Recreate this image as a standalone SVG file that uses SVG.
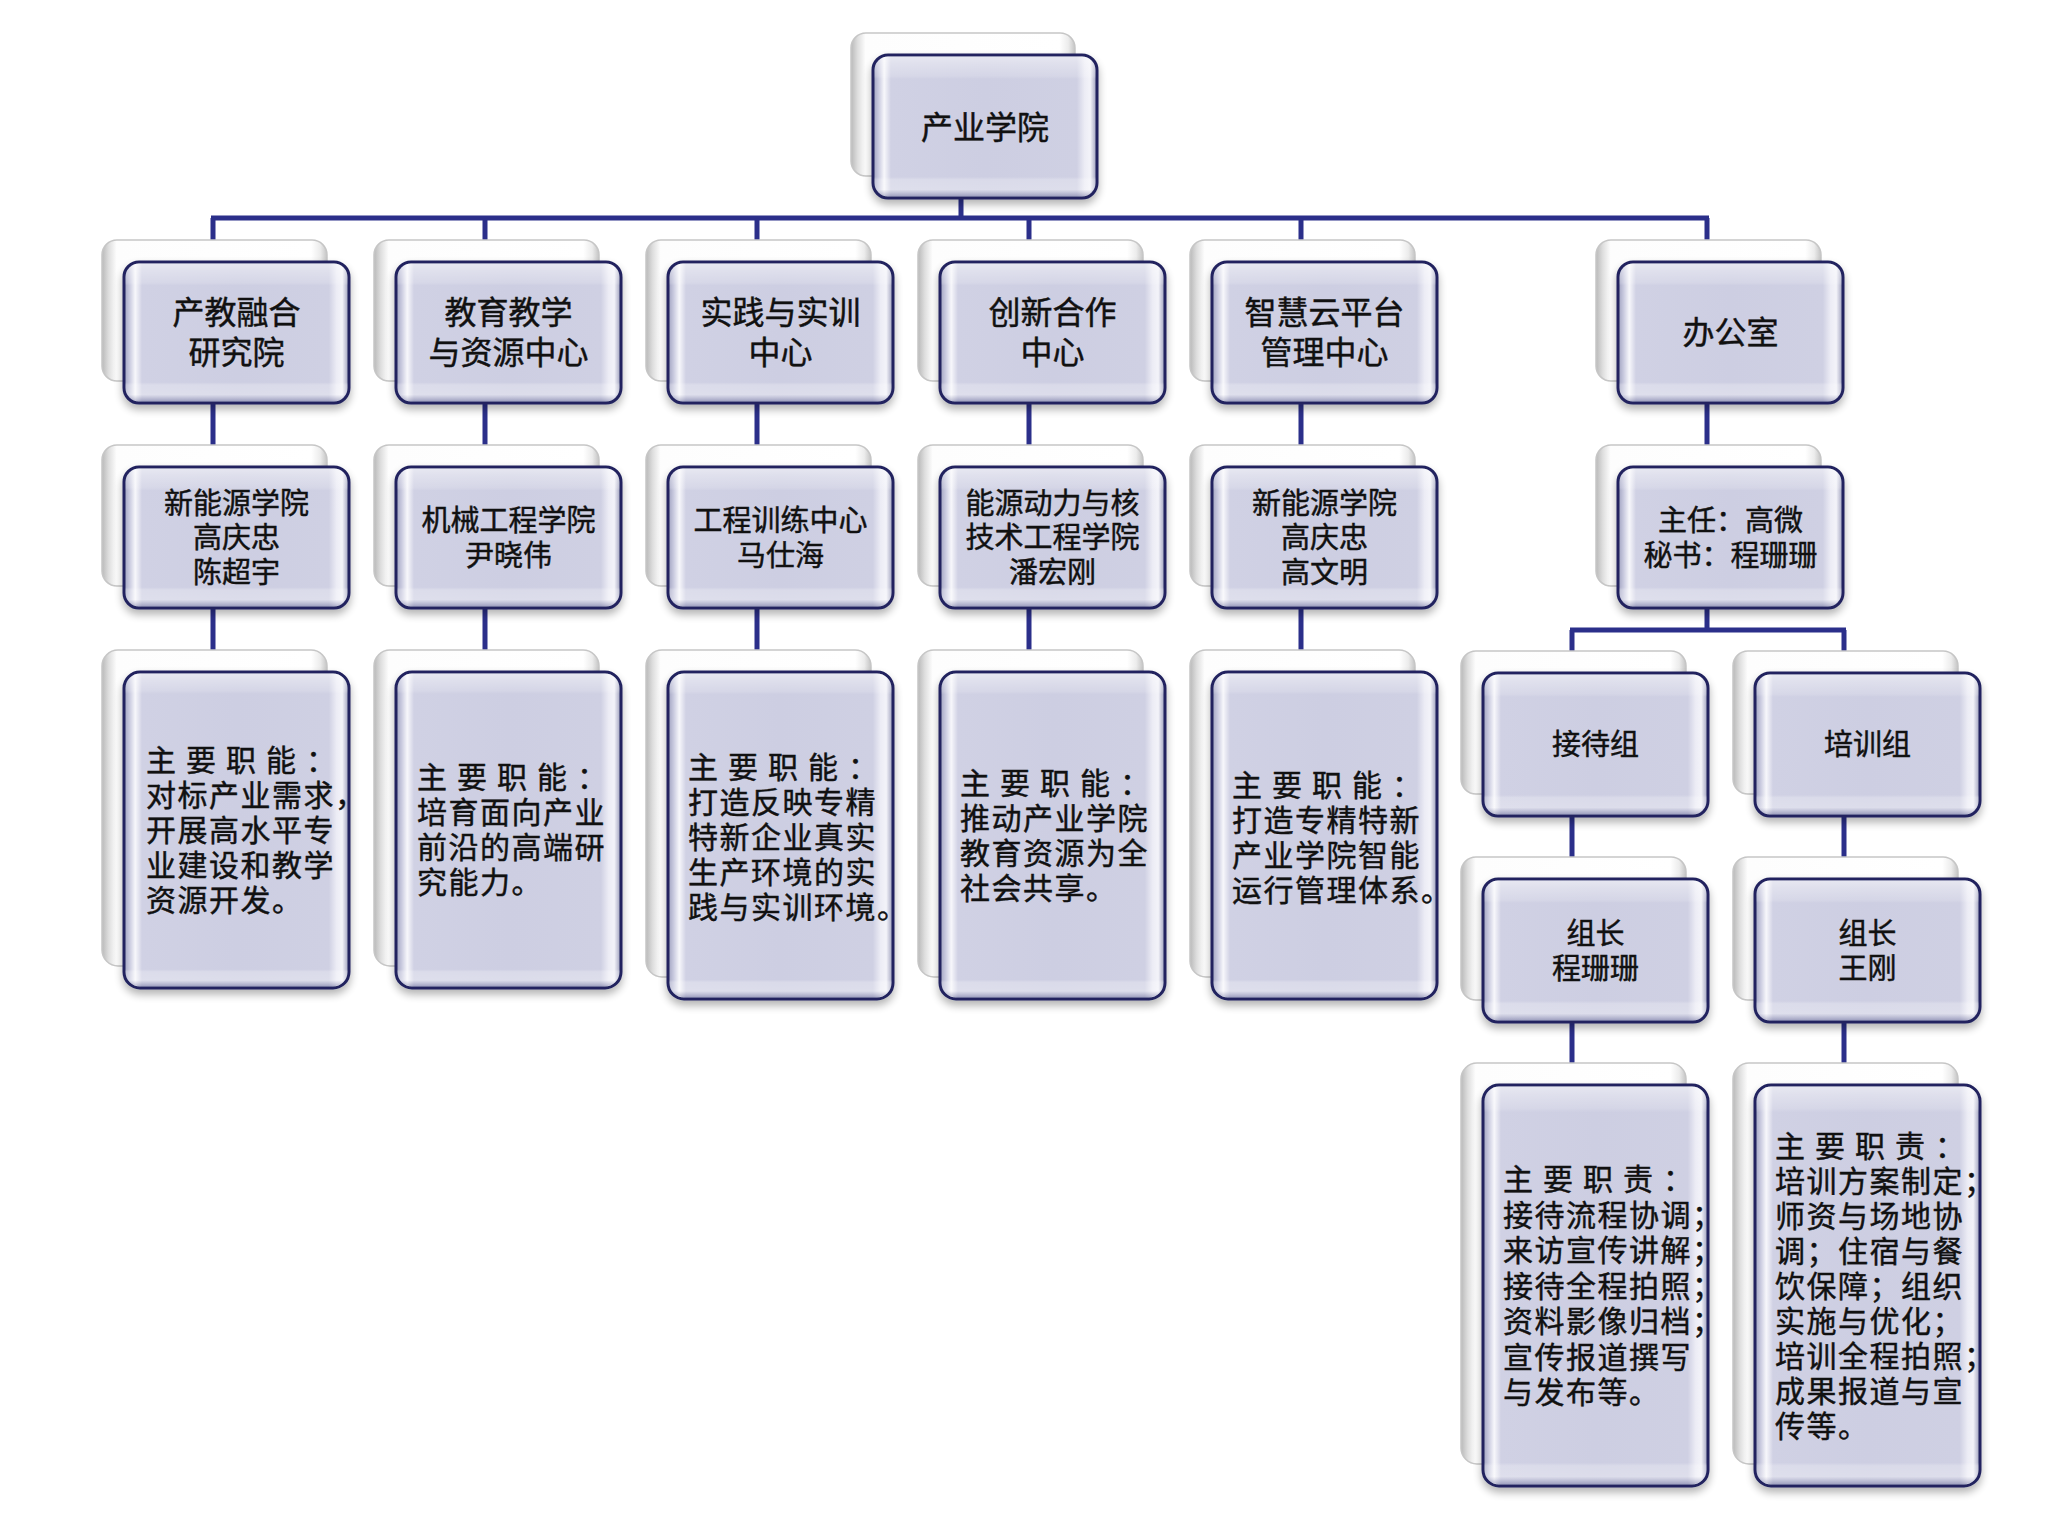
<svg xmlns="http://www.w3.org/2000/svg" width="2048" height="1536" viewBox="0 0 2048 1536">
<defs>
<linearGradient id="fh" x1="0" y1="0" x2="1" y2="0">
<stop offset="0" stop-color="#9fa1bf"/>
<stop offset="0.025" stop-color="#c9cadf"/>
<stop offset="0.05" stop-color="#f7f7fb"/>
<stop offset="0.08" stop-color="#d0d1e4"/>
<stop offset="0.5" stop-color="#cdcee2"/>
<stop offset="0.91" stop-color="#cfd0e3"/>
<stop offset="0.945" stop-color="#ececf5"/>
<stop offset="0.97" stop-color="#f3f3f9"/>
<stop offset="1" stop-color="#9799b8"/>
</linearGradient>
<linearGradient id="fvS" x1="0" y1="0" x2="0" y2="1">
<stop offset="0" stop-color="#ffffff" stop-opacity="0.5"/>
<stop offset="0.05" stop-color="#ffffff" stop-opacity="0.35"/>
<stop offset="0.14" stop-color="#ffffff" stop-opacity="0.15"/>
<stop offset="0.16" stop-color="#ffffff" stop-opacity="0"/>
<stop offset="0.86" stop-color="#ffffff" stop-opacity="0"/>
<stop offset="0.88" stop-color="#ffffff" stop-opacity="0.25"/>
<stop offset="0.95" stop-color="#ffffff" stop-opacity="0.3"/>
<stop offset="1" stop-color="#3c3f78" stop-opacity="0.35"/>
</linearGradient>
<linearGradient id="fvT" x1="0" y1="0" x2="0" y2="1">
<stop offset="0" stop-color="#ffffff" stop-opacity="0.5"/>
<stop offset="0.02" stop-color="#ffffff" stop-opacity="0.35"/>
<stop offset="0.055" stop-color="#ffffff" stop-opacity="0.15"/>
<stop offset="0.065" stop-color="#ffffff" stop-opacity="0"/>
<stop offset="0.945" stop-color="#ffffff" stop-opacity="0"/>
<stop offset="0.953" stop-color="#ffffff" stop-opacity="0.25"/>
<stop offset="0.98" stop-color="#ffffff" stop-opacity="0.3"/>
<stop offset="1" stop-color="#3c3f78" stop-opacity="0.35"/>
</linearGradient>
<linearGradient id="bh" x1="0" y1="0" x2="1" y2="0">
<stop offset="0" stop-color="#b9b9b9"/>
<stop offset="0.03" stop-color="#dedede"/>
<stop offset="0.065" stop-color="#fdfdfd"/>
<stop offset="0.93" stop-color="#ffffff"/>
<stop offset="0.97" stop-color="#ececec"/>
<stop offset="1" stop-color="#c4c4c4"/>
</linearGradient>
<filter id="sh" x="-10%" y="-10%" width="120%" height="130%">
<feGaussianBlur in="SourceAlpha" stdDeviation="4"/>
<feOffset dy="5"/>
<feComponentTransfer><feFuncA type="linear" slope="0.3"/></feComponentTransfer>
<feMerge><feMergeNode/><feMergeNode in="SourceGraphic"/></feMerge>
</filter>
</defs>
<style>
.back{fill:url(#bh);stroke:#c6c6c6;stroke-width:1.5}
.front{fill:url(#fh);stroke:#20245e;stroke-width:3;filter:url(#sh)}
.bvS{fill:url(#fvS)}
.bvT{fill:url(#fvT)}
.conn{fill:none;stroke:#2b2f8a;stroke-width:5}
text{font-family:"Liberation Sans","Noto Sans CJK SC",sans-serif;fill:#111111;stroke:#111111;stroke-width:0.45px}
.t32{font-size:32px;text-anchor:middle}
.t29{font-size:29px;text-anchor:middle}
.t30{font-size:30px;letter-spacing:1.5px}
.hd{letter-spacing:10px}
</style>
<rect width="2048" height="1536" fill="#ffffff"/>

<g id="connectors">
<path class="conn" d="M961 198V218M211 218H1709M213 218V240M485 218V240M757 218V240M1029 218V240M1301 218V240M1707 218V240"/>
<path class="conn" d="M213 403V445M485 403V445M757 403V445M1029 403V445M1301 403V445M1707 403V445"/>
<path class="conn" d="M213 608V650M485 608V650M757 608V650M1029 608V650M1301 608V650"/>
<path class="conn" d="M1707 608V630M1570 630H1846M1572 630V651M1844 630V651"/>
<path class="conn" d="M1572 816V857M1844 816V857M1572 1022V1063M1844 1022V1063"/>
</g>

<g id="n-top">
<rect class="back" x="851" y="33" width="224" height="143" rx="15"/>
<rect class="front" x="873" y="55" width="224" height="143" rx="15"/>
<rect class="bvS" x="874.5" y="56.5" width="221" height="140" rx="14"/>
<text class="t32" x="985" y="139">产业学院</text>
</g>

<g id="n-l1-1">
<rect class="back" x="102" y="240" width="225" height="141" rx="15"/>
<rect class="front" x="124" y="262" width="225" height="141" rx="15"/>
<rect class="bvS" x="125.5" y="263.5" width="222" height="138" rx="14"/>
<text class="t32" x="236.5" y="324">产教融合</text>
<text class="t32" x="236.5" y="364">研究院</text>
</g>
<g id="n-l1-2">
<rect class="back" x="374" y="240" width="225" height="141" rx="15"/>
<rect class="front" x="396" y="262" width="225" height="141" rx="15"/>
<rect class="bvS" x="397.5" y="263.5" width="222" height="138" rx="14"/>
<text class="t32" x="508.5" y="324">教育教学</text>
<text class="t32" x="508.5" y="364">与资源中心</text>
</g>
<g id="n-l1-3">
<rect class="back" x="646" y="240" width="225" height="141" rx="15"/>
<rect class="front" x="668" y="262" width="225" height="141" rx="15"/>
<rect class="bvS" x="669.5" y="263.5" width="222" height="138" rx="14"/>
<text class="t32" x="780.5" y="324">实践与实训</text>
<text class="t32" x="780.5" y="364">中心</text>
</g>
<g id="n-l1-4">
<rect class="back" x="918" y="240" width="225" height="141" rx="15"/>
<rect class="front" x="940" y="262" width="225" height="141" rx="15"/>
<rect class="bvS" x="941.5" y="263.5" width="222" height="138" rx="14"/>
<text class="t32" x="1052.5" y="324">创新合作</text>
<text class="t32" x="1052.5" y="364">中心</text>
</g>
<g id="n-l1-5">
<rect class="back" x="1190" y="240" width="225" height="141" rx="15"/>
<rect class="front" x="1212" y="262" width="225" height="141" rx="15"/>
<rect class="bvS" x="1213.5" y="263.5" width="222" height="138" rx="14"/>
<text class="t32" x="1324.5" y="324">智慧云平台</text>
<text class="t32" x="1324.5" y="364">管理中心</text>
</g>
<g id="n-office">
<rect class="back" x="1596" y="240" width="225" height="141" rx="15"/>
<rect class="front" x="1618" y="262" width="225" height="141" rx="15"/>
<rect class="bvS" x="1619.5" y="263.5" width="222" height="138" rx="14"/>
<text class="t32" x="1730.5" y="344">办公室</text>
</g>

<g id="n-l2-1">
<rect class="back" x="102" y="445" width="225" height="141" rx="15"/>
<rect class="front" x="124" y="467" width="225" height="141" rx="15"/>
<rect class="bvS" x="125.5" y="468.5" width="222" height="138" rx="14"/>
<text class="t29" x="236.5" y="513.5">新能源学院</text>
<text class="t29" x="236.5" y="548">高庆忠</text>
<text class="t29" x="236.5" y="582.5">陈超宇</text>
</g>
<g id="n-l2-2">
<rect class="back" x="374" y="445" width="225" height="141" rx="15"/>
<rect class="front" x="396" y="467" width="225" height="141" rx="15"/>
<rect class="bvS" x="397.5" y="468.5" width="222" height="138" rx="14"/>
<text class="t29" x="508.5" y="531">机械工程学院</text>
<text class="t29" x="508.5" y="566">尹晓伟</text>
</g>
<g id="n-l2-3">
<rect class="back" x="646" y="445" width="225" height="141" rx="15"/>
<rect class="front" x="668" y="467" width="225" height="141" rx="15"/>
<rect class="bvS" x="669.5" y="468.5" width="222" height="138" rx="14"/>
<text class="t29" x="780.5" y="531">工程训练中心</text>
<text class="t29" x="780.5" y="566">马仕海</text>
</g>
<g id="n-l2-4">
<rect class="back" x="918" y="445" width="225" height="141" rx="15"/>
<rect class="front" x="940" y="467" width="225" height="141" rx="15"/>
<rect class="bvS" x="941.5" y="468.5" width="222" height="138" rx="14"/>
<text class="t29" x="1052.5" y="513.5">能源动力与核</text>
<text class="t29" x="1052.5" y="548">技术工程学院</text>
<text class="t29" x="1052.5" y="582.5">潘宏刚</text>
</g>
<g id="n-l2-5">
<rect class="back" x="1190" y="445" width="225" height="141" rx="15"/>
<rect class="front" x="1212" y="467" width="225" height="141" rx="15"/>
<rect class="bvS" x="1213.5" y="468.5" width="222" height="138" rx="14"/>
<text class="t29" x="1324.5" y="513.5">新能源学院</text>
<text class="t29" x="1324.5" y="548">高庆忠</text>
<text class="t29" x="1324.5" y="582.5">高文明</text>
</g>
<g id="n-office-lead">
<rect class="back" x="1596" y="445" width="225" height="141" rx="15"/>
<rect class="front" x="1618" y="467" width="225" height="141" rx="15"/>
<rect class="bvS" x="1619.5" y="468.5" width="222" height="138" rx="14"/>
<text class="t29" x="1730.5" y="531">主任：高微</text>
<text class="t29" x="1730.5" y="566">秘书：程珊珊</text>
</g>

<g id="n-l3-1">
<rect class="back" x="102" y="650" width="225" height="316" rx="16"/>
<rect class="front" x="124" y="672" width="225" height="316" rx="16"/>
<rect class="bvT" x="125.5" y="673.5" width="222" height="313" rx="15"/>
<text class="t30 hd" x="146" y="771">主要职能：</text>
<text class="t30" x="146" y="806">对标产业需求，</text>
<text class="t30" x="146" y="841">开展高水平专</text>
<text class="t30" x="146" y="876">业建设和教学</text>
<text class="t30" x="146" y="911">资源开发。</text>
</g>
<g id="n-l3-2">
<rect class="back" x="374" y="650" width="225" height="316" rx="16"/>
<rect class="front" x="396" y="672" width="225" height="316" rx="16"/>
<rect class="bvT" x="397.5" y="673.5" width="222" height="313" rx="15"/>
<text class="t30 hd" x="417" y="788">主要职能：</text>
<text class="t30" x="417" y="823">培育面向产业</text>
<text class="t30" x="417" y="858">前沿的高端研</text>
<text class="t30" x="417" y="893">究能力。</text>
</g>
<g id="n-l3-3">
<rect class="back" x="646" y="650" width="225" height="327" rx="16"/>
<rect class="front" x="668" y="672" width="225" height="327" rx="16"/>
<rect class="bvT" x="669.5" y="673.5" width="222" height="324" rx="15"/>
<text class="t30 hd" x="688" y="778">主要职能：</text>
<text class="t30" x="688" y="813">打造反映专精</text>
<text class="t30" x="688" y="848">特新企业真实</text>
<text class="t30" x="688" y="883">生产环境的实</text>
<text class="t30" x="688" y="918">践与实训环境。</text>
</g>
<g id="n-l3-4">
<rect class="back" x="918" y="650" width="225" height="327" rx="16"/>
<rect class="front" x="940" y="672" width="225" height="327" rx="16"/>
<rect class="bvT" x="941.5" y="673.5" width="222" height="324" rx="15"/>
<text class="t30 hd" x="960" y="794">主要职能：</text>
<text class="t30" x="960" y="829">推动产业学院</text>
<text class="t30" x="960" y="864">教育资源为全</text>
<text class="t30" x="960" y="899">社会共享。</text>
</g>
<g id="n-l3-5">
<rect class="back" x="1190" y="650" width="225" height="327" rx="16"/>
<rect class="front" x="1212" y="672" width="225" height="327" rx="16"/>
<rect class="bvT" x="1213.5" y="673.5" width="222" height="324" rx="15"/>
<text class="t30 hd" x="1232" y="796">主要职能：</text>
<text class="t30" x="1232" y="831">打造专精特新</text>
<text class="t30" x="1232" y="866">产业学院智能</text>
<text class="t30" x="1232" y="901">运行管理体系。</text>
</g>

<g id="n-reception">
<rect class="back" x="1461" y="651" width="225" height="143" rx="15"/>
<rect class="front" x="1483" y="673" width="225" height="143" rx="15"/>
<rect class="bvS" x="1484.5" y="674.5" width="222" height="140" rx="14"/>
<text class="t29" x="1595.5" y="755">接待组</text>
</g>
<g id="n-training">
<rect class="back" x="1733" y="651" width="225" height="143" rx="15"/>
<rect class="front" x="1755" y="673" width="225" height="143" rx="15"/>
<rect class="bvS" x="1756.5" y="674.5" width="222" height="140" rx="14"/>
<text class="t29" x="1867.5" y="755">培训组</text>
</g>
<g id="n-reception-lead">
<rect class="back" x="1461" y="857" width="225" height="143" rx="15"/>
<rect class="front" x="1483" y="879" width="225" height="143" rx="15"/>
<rect class="bvS" x="1484.5" y="880.5" width="222" height="140" rx="14"/>
<text class="t29" x="1595.5" y="944">组长</text>
<text class="t29" x="1595.5" y="979">程珊珊</text>
</g>
<g id="n-training-lead">
<rect class="back" x="1733" y="857" width="225" height="143" rx="15"/>
<rect class="front" x="1755" y="879" width="225" height="143" rx="15"/>
<rect class="bvS" x="1756.5" y="880.5" width="222" height="140" rx="14"/>
<text class="t29" x="1867.5" y="944">组长</text>
<text class="t29" x="1867.5" y="979">王刚</text>
</g>
<g id="n-reception-duty">
<rect class="back" x="1461" y="1063" width="225" height="401" rx="16"/>
<rect class="front" x="1483" y="1085" width="225" height="401" rx="16"/>
<rect class="bvT" x="1484.5" y="1086.5" width="222" height="398" rx="15"/>
<text class="t30 hd" x="1503" y="1190">主要职责：</text>
<text class="t30" x="1503" y="1225.5">接待流程协调；</text>
<text class="t30" x="1503" y="1261">来访宣传讲解；</text>
<text class="t30" x="1503" y="1296.5">接待全程拍照；</text>
<text class="t30" x="1503" y="1332">资料影像归档；</text>
<text class="t30" x="1503" y="1367.5">宣传报道撰写</text>
<text class="t30" x="1503" y="1403">与发布等。</text>
</g>
<g id="n-training-duty">
<rect class="back" x="1733" y="1063" width="225" height="401" rx="16"/>
<rect class="front" x="1755" y="1085" width="225" height="401" rx="16"/>
<rect class="bvT" x="1756.5" y="1086.5" width="222" height="398" rx="15"/>
<text class="t30 hd" x="1775" y="1156.5">主要职责：</text>
<text class="t30" x="1775" y="1191.5">培训方案制定；</text>
<text class="t30" x="1775" y="1226.5">师资与场地协</text>
<text class="t30" x="1775" y="1261.5">调；住宿与餐</text>
<text class="t30" x="1775" y="1296.5">饮保障；组织</text>
<text class="t30" x="1775" y="1331.5">实施与优化；</text>
<text class="t30" x="1775" y="1366.5">培训全程拍照；</text>
<text class="t30" x="1775" y="1401.5">成果报道与宣</text>
<text class="t30" x="1775" y="1436.5">传等。</text>
</g>
</svg>
